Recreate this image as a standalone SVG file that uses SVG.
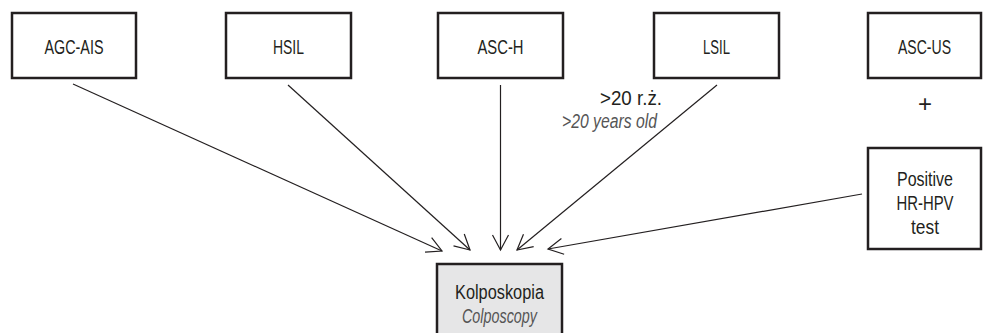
<svg xmlns="http://www.w3.org/2000/svg" width="983" height="333" viewBox="0 0 983 333">
<style>
.box{fill:#fff;stroke:#231f20;stroke-width:2.5}
.gbox{fill:#e6e6e7;stroke:#231f20;stroke-width:2.5}
.t{font-family:"Liberation Sans",Arial,sans-serif;font-size:20px;fill:#231f20;text-anchor:middle}
.it{font-style:italic;fill:#555}
.ln{stroke:#231f20;stroke-width:1.2;fill:none;marker-end:url(#ah)}
</style>
<defs>
<marker id="ah" viewBox="0 0 20 20" refX="18" refY="10" markerWidth="20" markerHeight="20" markerUnits="userSpaceOnUse" orient="auto">
<path d="M3,2 L18,10 L3,18" fill="none" stroke="#231f20" stroke-width="1.2"/>
</marker>
</defs>
<rect width="983" height="333" fill="#fff"/>
<g id="connectors">
<line class="ln" x1="73" y1="84" x2="442" y2="251"/>
<line class="ln" x1="288" y1="85" x2="470" y2="250"/>
<line class="ln" x1="500.5" y1="85" x2="500.5" y2="250"/>
<line class="ln" x1="717" y1="85" x2="517" y2="250"/>
<line class="ln" x1="862" y1="194" x2="548" y2="249"/>
</g>
<g id="agc-ais"><rect class="box" x="12" y="13" width="124" height="65"/><text class="t" x="74" y="54" textLength="59" lengthAdjust="spacingAndGlyphs">AGC-AIS</text></g>
<g id="hsil"><rect class="box" x="226" y="13" width="125" height="65"/><text class="t" x="288.5" y="54" textLength="31" lengthAdjust="spacingAndGlyphs">HSIL</text></g>
<g id="asc-h"><rect class="box" x="438" y="13" width="125" height="65"/><text class="t" x="500.5" y="54" textLength="46" lengthAdjust="spacingAndGlyphs">ASC-H</text></g>
<g id="lsil"><rect class="box" x="654" y="13" width="125" height="65"/><text class="t" x="716.5" y="54" textLength="27" lengthAdjust="spacingAndGlyphs">LSIL</text></g>
<g id="asc-us"><rect class="box" x="868" y="13" width="113" height="65"/><text class="t" x="924.5" y="54" textLength="53" lengthAdjust="spacingAndGlyphs">ASC-US</text></g>
<g id="plus"><text class="t" x="925" y="112" style="font-size:24px;font-weight:300">+</text></g>
<g id="positive"><rect class="box" x="868" y="148" width="113" height="101"/>
<text class="t" x="925" y="186" textLength="56" lengthAdjust="spacingAndGlyphs">Positive</text><text class="t" x="925" y="210" textLength="57" lengthAdjust="spacingAndGlyphs">HR-HPV</text><text class="t" x="925" y="234" textLength="28" lengthAdjust="spacingAndGlyphs">test</text></g>
<g id="age-label"><text class="t" x="631" y="105" textLength="62" lengthAdjust="spacingAndGlyphs">&gt;20 r.ż.</text>
<text class="t it" x="609.5" y="128" textLength="95" lengthAdjust="spacingAndGlyphs">&gt;20 years old</text></g>
<g id="kolposkopia"><rect class="gbox" x="437" y="264" width="125" height="75"/>
<text class="t" x="499.5" y="299" textLength="89" lengthAdjust="spacingAndGlyphs">Kolposkopia</text><text class="t it" x="499.5" y="323" textLength="75" lengthAdjust="spacingAndGlyphs">Colposcopy</text></g>
</svg>
